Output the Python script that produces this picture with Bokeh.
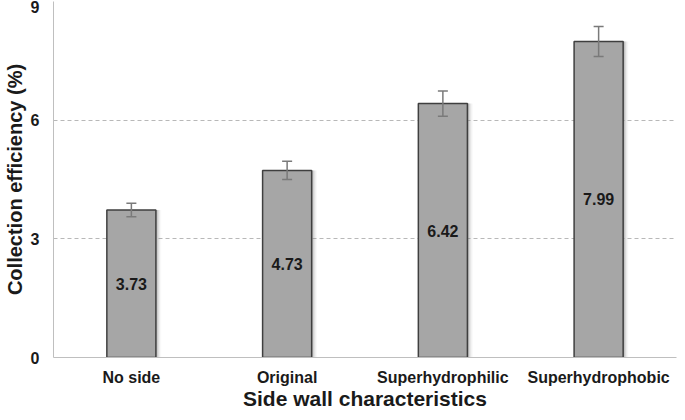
from bokeh.plotting import figure
from bokeh.models import ColumnDataSource, Whisker, TeeHead, LabelSet, FixedTicker, FactorRange, Range1d
from bokeh.core.properties import value
from bokeh.transform import dodge
from bokeh.embed import file_html
from bokeh.resources import INLINE

categories = ["No side", "Original", "Superhydrophilic", "Superhydrophobic"]
values = [3.73, 4.73, 6.42, 7.99]
errors = [0.17, 0.23, 0.32, 0.38]
value_labels = ["3.73", "4.73", "6.42", "7.99"]
y_ticks = [0, 3, 6, 9]
x_title = "Side wall characteristics"
y_title = "Collection efficiency (%)"

FONT = "Liberation Sans"
TXT = "#1a1a1a"

src = ColumnDataSource(dict(
    cat=categories,
    top=values,
    upper=[v + e for v, e in zip(values, errors)],
    lower=[v - e for v, e in zip(values, errors)],
    mid=[v / 2 for v in values],
    lab=value_labels,
))

p = figure(x_range=FactorRange(*categories), y_range=Range1d(0, 9),
           width=677, height=412, output_backend="svg", toolbar_location=None,
           min_border_left=42, min_border_right=1, min_border_top=1, min_border_bottom=50)
p.outline_line_color = None
p.background_fill_color = "white"
p.border_fill_color = "white"

# grid
p.xgrid.grid_line_color = None
p.ygrid.ticker = FixedTicker(ticks=[3, 6])
p.ygrid.grid_line_color = "#b8b8b8"
p.ygrid.grid_line_dash = "4 3"
p.ygrid.grid_line_width = 1

# shadows
for off, a in [(0.010, 0.30), (0.018, 0.18), (0.026, 0.10), (0.034, 0.05)]:
    p.vbar(x=dodge("cat", off, range=p.x_range), top="top", width=0.315, bottom=0,
           source=src, fill_color="#808080", fill_alpha=a, line_color=None)

p.vbar(x="cat", top="top", width=0.315, bottom=0, source=src,
       fill_color="#a6a6a6", line_color="#3f3f3f", line_width=1.5)

w = Whisker(base="cat", upper="upper", lower="lower", source=src, level="annotation",
            line_color="#7a7a7a", line_width=1.5,
            upper_head=TeeHead(size=10, line_color="#7a7a7a", line_width=1.5),
            lower_head=TeeHead(size=10, line_color="#7a7a7a", line_width=1.5))
p.add_layout(w)

labels = LabelSet(x="cat", y="mid", text="lab", source=src, text_align="center",
                  text_baseline="middle", text_font=value(FONT), text_font_style="bold",
                  text_font_size="16px", text_color=TXT)
p.add_layout(labels)

# axes
p.yaxis.ticker = FixedTicker(ticks=y_ticks)
p.yaxis.axis_line_color = "#bfbfbf"
p.yaxis.major_tick_line_color = None
p.yaxis.major_tick_out = 0
p.yaxis.major_tick_in = 0
p.yaxis.minor_tick_line_color = None
p.yaxis.major_label_text_font = FONT
p.yaxis.major_label_text_font_style = "bold"
p.yaxis.major_label_text_font_size = "16px"
p.yaxis.major_label_text_color = TXT
p.yaxis.major_label_standoff = 14
p.yaxis.axis_label = y_title
p.yaxis.axis_label_text_font = FONT
p.yaxis.axis_label_text_font_style = "bold"
p.yaxis.axis_label_text_font_size = "20px"
p.yaxis.axis_label_text_color = TXT
p.yaxis.axis_label_text_line_height = 1.0
p.yaxis.axis_label_standoff = 2

p.xaxis.axis_line_color = "#bfbfbf"
p.xaxis.major_tick_line_color = None
p.xaxis.major_tick_out = 0
p.xaxis.major_tick_in = 0
p.xaxis.minor_tick_line_color = None
p.xaxis.major_label_text_font = FONT
p.xaxis.major_label_text_font_style = "bold"
p.xaxis.major_label_text_font_size = "16px"
p.xaxis.major_label_text_color = TXT
p.xaxis.major_label_text_line_height = 1.0
p.xaxis.major_label_standoff = 11
p.xaxis.axis_label = x_title
p.xaxis.axis_label_text_font = FONT
p.xaxis.axis_label_text_font_style = "bold"
p.xaxis.axis_label_text_font_size = "21px"
p.xaxis.axis_label_text_color = TXT
p.xaxis.axis_label_text_line_height = 1.0
p.xaxis.axis_label_standoff = -2

open("out.html", "w").write(file_html(p, INLINE))
